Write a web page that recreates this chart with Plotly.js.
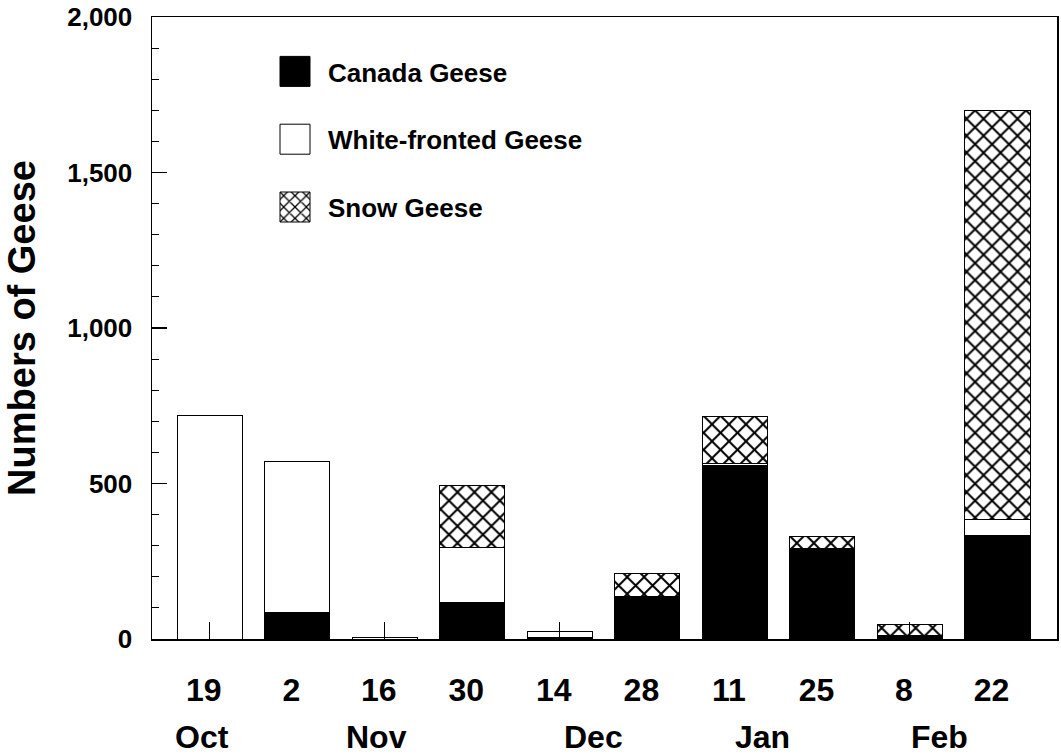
<!DOCTYPE html>
<html>
<head>
<meta charset="utf-8">
<script src="https://cdn.plot.ly/plotly-3.0.1.min.js"></script>
<style>
  html, body { margin: 0; padding: 0; background: #fff; }
  #chart { width: 1061px; height: 755px; }
</style>
</head>
<body>
<div id="chart"></div>
<script>
// ---- data ----
const dates = ['19 Oct', '2 Nov', '16 Nov', '30 Nov', '14 Dec', '28 Dec', '11 Jan', '25 Jan', '8 Feb', '22 Feb'];
const dayLabels = ['19', '2', '16', '30', '14', '28', '11', '25', '8', '22'];
const canadaGeese = [0, 85, 0, 118, 6, 137, 558, 292, 12, 333];
const whiteFrontedGeese = [720, 485, 5, 176, 18, 0, 6, 0, 0, 50];
const snowGeese = [0, 0, 0, 200, 0, 74, 152, 36, 34, 1317];
const monthLabels = ['Oct', 'Nov', 'Dec', 'Jan', 'Feb'];
const monthPositions = [-0.09, 1.9, 4.38, 6.32, 8.34];
const yTickVals = [0, 500, 1000, 1500, 2000];
const yTickText = ['0', '500', '1,000', '1,500', '2,000'];

const FONT = 'Liberation Sans, Arial, Helvetica, sans-serif';

const traces = [
  {
    type: 'bar', name: 'Canada Geese', x: dates, y: canadaGeese,
    marker: { color: '#000000', line: { color: '#000000', width: 1 } },
    legendgroup: 'a'
  },
  {
    type: 'bar', name: 'White-fronted Geese', x: dates, y: whiteFrontedGeese,
    marker: { color: '#ffffff', line: { color: '#000000', width: 1 } },
    legendgroup: 'b'
  },
  {
    type: 'bar', name: 'Snow Geese', x: dates, y: snowGeese,
    marker: {
      color: '#ffffff',
      line: { color: '#000000', width: 1 },
      pattern: { shape: 'x', fgcolor: '#000000', bgcolor: '#ffffff', size: 12, solidity: 0.3 }
    },
    legendgroup: 'c'
  }
];

const annotations = monthLabels.map((m, i) => ({
  text: m, x: monthPositions[i], xref: 'x', y: 0, yref: 'paper',
  yshift: -118, showarrow: false, xanchor: 'center', yanchor: 'bottom',
  font: { family: FONT, size: 32, weight: 'bold', color: '#000' }
}));

const layout = {
  width: 1061, height: 755,
  margin: { l: 152, r: 4, t: 17, b: 116 },
  paper_bgcolor: '#fff', plot_bgcolor: '#fff',
  barmode: 'stack', bargap: 0.257,
  showlegend: true,
  legend: {
    xref: 'paper', yref: 'paper',
    x: (262 - 152) / 905, y: 1 - (48 - 17) / 622, xanchor: 'left', yanchor: 'top',
    traceorder: 'grouped', tracegroupgap: 31, itemwidth: 56,
    font: { family: FONT, size: 26, weight: 'bold', color: '#000' },
    bgcolor: 'rgba(0,0,0,0)', borderwidth: 0
  },
  xaxis: {
    type: 'category', range: [-0.66, 9.68],
    tickmode: 'array', tickvals: dates, ticktext: dayLabels,
    ticks: 'inside', ticklen: 17, tickwidth: 1, tickcolor: '#000',
    showline: true, linecolor: '#000', linewidth: 1.5, mirror: true,
    showgrid: false, zeroline: false,
    ticklabelstandoff: 22, ticklabelshift: -6,
    tickfont: { family: FONT, size: 32, weight: 'bold', color: '#000' },
    fixedrange: true
  },
  yaxis: {
    range: [0, 2000],
    tickmode: 'array', tickvals: yTickVals, ticktext: yTickText,
    ticks: 'inside', ticklen: 15, tickwidth: 1.5, tickcolor: '#000',
    minor: { dtick: 100, ticks: 'inside', ticklen: 7, tickwidth: 1, tickcolor: '#000', showgrid: false },
    showline: true, linecolor: '#000', linewidth: 1.5, mirror: true,
    showgrid: false, zeroline: false,
    ticklabelstandoff: 13,
    tickfont: { family: FONT, size: 26, weight: 'bold', color: '#000' },
    title: { text: 'Numbers of Geese', standoff: 20,
             font: { family: FONT, size: 38, weight: 'bold', color: '#000' } },
    fixedrange: true
  },
  annotations: annotations
};

Plotly.newPlot('chart', traces, layout, { displayModeBar: false, staticPlot: true }).then(() => {
  // enlarge the legend swatches to 30x30 squares (pattern keeps its own size)
  document.querySelectorAll('.legend .legendpoints path').forEach(p => {
    p.setAttribute('d', 'M15,15H-15V-15H15Z');
  });
});
</script>
</body>
</html>
